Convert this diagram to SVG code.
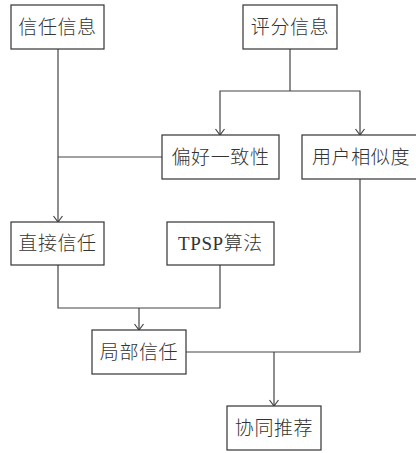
<svg xmlns="http://www.w3.org/2000/svg" width="416" height="453" viewBox="0 0 416 453">
<defs>
<style>
.box{fill:#fff;stroke:#333;stroke-width:1.2}
.lbl{font-family:"Liberation Serif","Noto Sans CJK SC",serif;font-size:19px;font-weight:300;fill:#333;text-anchor:middle;letter-spacing:0.6px}
.ln{fill:none;stroke:#444;stroke-width:1.2}
</style>
<marker id="arr" viewBox="0 0 10 10" refX="10" refY="5" markerWidth="10" markerHeight="10" markerUnits="userSpaceOnUse" orient="auto">
<path d="M4,0.5 L10,5 L4,9.5" fill="none" stroke="#444" stroke-width="1.2"/>
</marker>
</defs>
<rect width="416" height="453" fill="#fff"/>
<g id="connectors">
<path class="ln" d="M58,49 V222" marker-end="url(#arr)"/>
<path class="ln" d="M162,157 H58"/>
<path class="ln" d="M290,49 V91"/>
<path class="ln" d="M290,91 H220 V135" marker-end="url(#arr)"/>
<path class="ln" d="M290,91 H360 V135" marker-end="url(#arr)"/>
<path class="ln" d="M58,265 V308 H220 V265"/>
<path class="ln" d="M139,308 V330" marker-end="url(#arr)"/>
<path class="ln" d="M360,179 V352 H186"/>
<path class="ln" d="M274,352 V406" marker-end="url(#arr)"/>
</g>
<g id="n1"><rect class="box" x="11" y="5" width="93" height="44"/><text class="lbl" x="57.5" y="34">信任信息</text></g>
<g id="n2"><rect class="box" x="243" y="5" width="94" height="44"/><text class="lbl" x="290" y="34">评分信息</text></g>
<g id="n3"><rect class="box" x="162" y="135" width="117" height="44"/><text class="lbl" x="220.5" y="164">偏好一致性</text></g>
<g id="n4"><rect class="box" x="302" y="135" width="118" height="44"/><text class="lbl" x="361" y="164">用户相似度</text></g>
<g id="n5"><rect class="box" x="11" y="222" width="93" height="43"/><text class="lbl" x="57.5" y="250">直接信任</text></g>
<g id="n6"><rect class="box" x="167" y="222" width="107" height="43"/><text class="lbl" x="220.5" y="250">TPSP算法</text></g>
<g id="n7"><rect class="box" x="92" y="330" width="94" height="44"/><text class="lbl" x="139" y="359">局部信任</text></g>
<g id="n8"><rect class="box" x="227" y="406" width="94" height="44"/><text class="lbl" x="274" y="435">协同推荐</text></g>
</svg>
